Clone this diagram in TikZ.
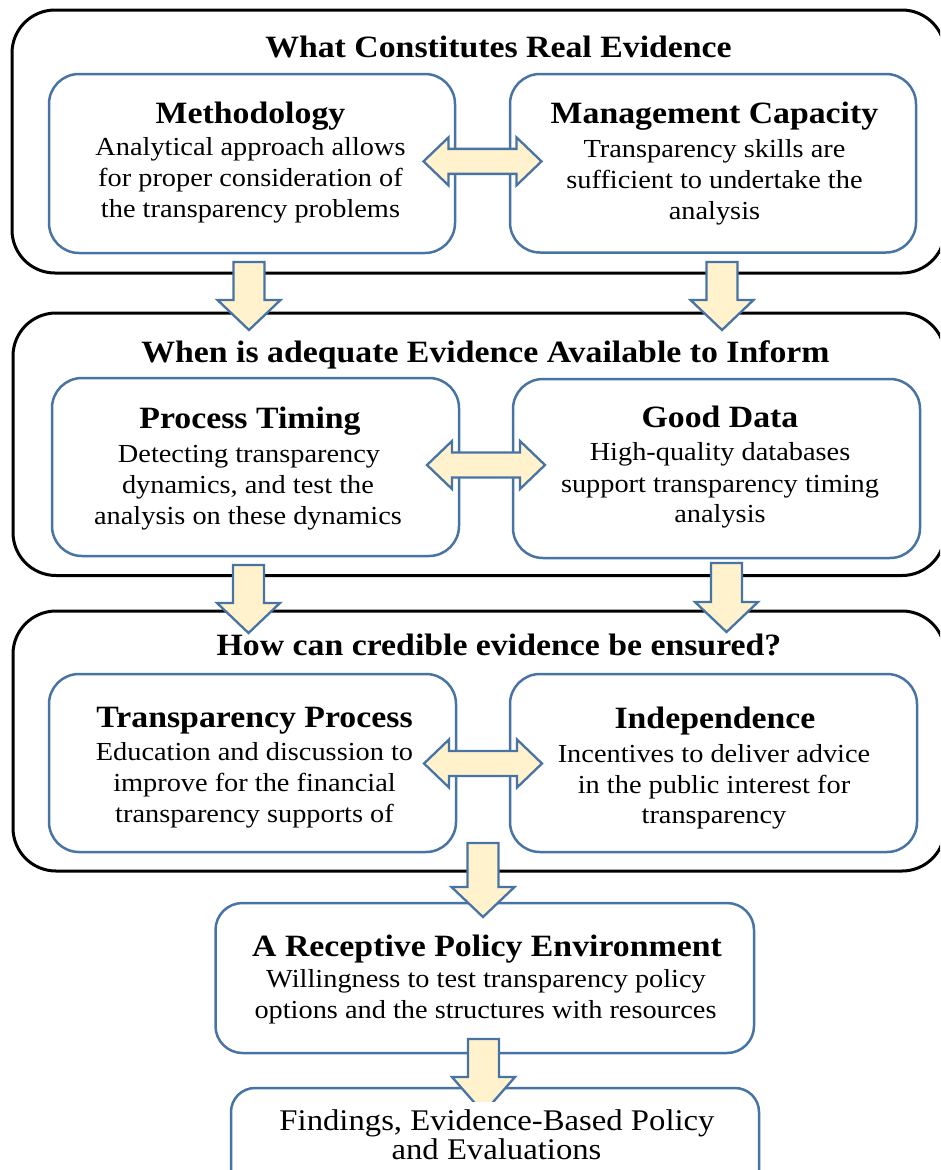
\documentclass[tikz,border=0pt]{standalone}
\usepackage{fontspec}
\setmainfont{Liberation Serif}[FakeStretch=1.09]
\usetikzlibrary{calc}
\definecolor{boxblue}{RGB}{72,116,165}
\definecolor{arrowfill}{RGB}{255,242,204}
\newcommand\blockdown[3]{%
  \draw[arrowshape] ($(#1)+(-15.5,0)$) -- ++(31,0) -- ++(0,#2) -- ++(16,0)
    -- ++(-31.5,#3) -- ++(-31.5,-#3) -- ++(16,0) -- cycle;}
\newcommand\blockdouble[1]{%
  \draw[arrowshape] ($(#1)+(-59,0)$) -- ++(25,-24) -- ++(0,11.5) -- ++(68,0)
    -- ++(0,-11.5) -- ++(25,24) -- ++(-25,24) -- ++(0,-11.5) -- ++(-68,0)
    -- ++(0,11.5) -- cycle;}
\begin{document}
\begin{tikzpicture}[x=1pt,y=-1pt,
  outerbox/.style={draw=black, line width=3pt, rounded corners=43pt, inner sep=0pt},
  innerbox/.style={draw=boxblue, line width=2.5pt, rounded corners=30pt, fill=white, inner sep=0pt},
  lowbox/.style={draw=boxblue, line width=2.5pt, rounded corners=27pt, fill=white, inner sep=0pt},
  arrowshape/.style={draw=boxblue, line width=2.3pt, fill=arrowfill, line join=miter},
  ttl/.style={font=\bfseries\fontsize{31}{36}\selectfont, anchor=base, inner sep=0pt},
  bd/.style={font=\fontsize{26}{31}\selectfont, anchor=base, inner sep=0pt},
  fd/.style={font=\fontsize{30}{25}\selectfont, anchor=base, inner sep=0pt}]
\fill[white] (0,0) rectangle (940,1170);
\clip (0,0) rectangle (940,1170);

% ---- outer sections
\node[outerbox, minimum width=933pt, minimum height=263pt] (sec1) at (478.5,141.5) {};
\node[outerbox, minimum width=932pt, minimum height=262.5pt] (sec2) at (479,444.25) {};
\node[outerbox, minimum width=932pt, minimum height=260pt] (sec3) at (479,741) {};
\node[ttl] (t1) at (498.5,57) {What Constitutes Real Evidence};
\node[ttl] (t2) at (485.5,362) {When is adequate Evidence Available to Inform};
\node[ttl] (t3) at (499,655) {How can credible evidence be ensured?};

% ---- section 1
\node[innerbox, minimum width=406pt, minimum height=179pt] (meth) at (252,163.5) {};
\node[innerbox, minimum width=406pt, minimum height=178.5pt] (mgmt) at (713,163.25) {};
\node[ttl] (methh) at (250.5,123) {Methodology};
\node[bd] (meth1) at (250.5,155) {Analytical approach allows};
\node[bd] (meth2) at (250.5,186) {for proper consideration of};
\node[bd] (meth3) at (250.5,217) {the transparency problems};
\node[ttl] (mgmth) at (714.5,123) {Management Capacity};
\node[bd] (mgmt1) at (714.5,157) {Transparency skills are};
\node[bd] (mgmt2) at (714.5,188) {sufficient to undertake the};
\node[bd] (mgmt3) at (714.5,219) {analysis};

% ---- section 2
\node[innerbox, minimum width=407pt, minimum height=178pt] (ptime) at (255.5,467) {};
\node[innerbox, minimum width=407pt, minimum height=179pt] (gdata) at (716.5,468.5) {};
\node[ttl] (ptimeh) at (250,428) {Process Timing};
\node[bd] (ptime1) at (249,462) {Detecting transparency};
\node[bd] (ptime2) at (248,493) {dynamics, and test the};
\node[bd] (ptime3) at (248,524) {analysis on these dynamics};
\node[ttl] (gdatah) at (720,427) {Good Data};
\node[bd] (gdata1) at (720,460) {High-quality databases};
\node[bd] (gdata2) at (720,492) {support transparency timing};
\node[bd] (gdata3) at (720,522) {analysis};

% ---- section 3
\node[innerbox, minimum width=407pt, minimum height=178pt] (tproc) at (252.5,763) {};
\node[innerbox, minimum width=407pt, minimum height=178pt] (indep) at (713.5,763) {};
\node[ttl] (tproch) at (254.5,727) {Transparency Process};
\node[bd] (tproc1) at (254.5,760) {Education and discussion to};
\node[bd] (tproc2) at (254.5,791) {improve for the financial};
\node[bd] (tproc3) at (254.5,822) {transparency supports of};
\node[ttl] (indeph) at (715,728) {Independence};
\node[bd] (indep1) at (714,762) {Incentives to deliver advice};
\node[bd] (indep2) at (714,793) {in the public interest for};
\node[bd] (indep3) at (714,823) {transparency};

% ---- horizontal double arrows
\coordinate (d1) at ($(meth.east)!0.5!(mgmt.west)+(0,-2)$);
\coordinate (d2) at ($(ptime.east)!0.5!(gdata.west)+(0,-2.75)$);
\coordinate (d3) at ($(tproc.east)!0.5!(indep.west)+(0,0.5)$);
\blockdouble{d1}
\blockdouble{d2}
\blockdouble{d3}

% ---- down arrows between sections
\coordinate (a1) at (249,262);
\coordinate (a2) at (722,262);
\coordinate (a3) at (248.5,565);
\coordinate (a4) at (726.5,563);
\blockdown{a1}{38}{30}
\blockdown{a2}{38}{30}
\blockdown{a3}{38}{30}
\blockdown{a4}{39}{30}

% ---- receptive policy environment
\node[lowbox, minimum width=538.5pt, minimum height=150pt] (recep) at (484.75,978) {};
\node[ttl] (recesh) at (487,956) {A Receptive Policy Environment};
\node[bd] (recep1) at (486,987) {Willingness to test transparency policy};
\node[bd] (recep2) at (485.5,1018) {options and the structures with resources};

\coordinate (a5) at (483,843);
\blockdown{a5}{44}{30}

% ---- findings
\node[lowbox, rounded corners=24pt, minimum width=528pt, minimum height=130pt] (find) at (495,1153) {};
\coordinate (a6) at (483.5,1039);
\begin{scope}
  \clip (0,0) rectangle (940,1101.5);
  \blockdown{a6}{38}{36}
\end{scope}
\node[fd, text depth=0pt] (find1) at (497,1130) {Findings, Evidence-Based Policy};
\begin{scope}
  \clip (235,1137.5) rectangle (755,1159.5);
  \node[fd, text height=20pt] (find2) at (496.5,1159) {and Evaluations};
\end{scope}
\end{tikzpicture}
\end{document}
